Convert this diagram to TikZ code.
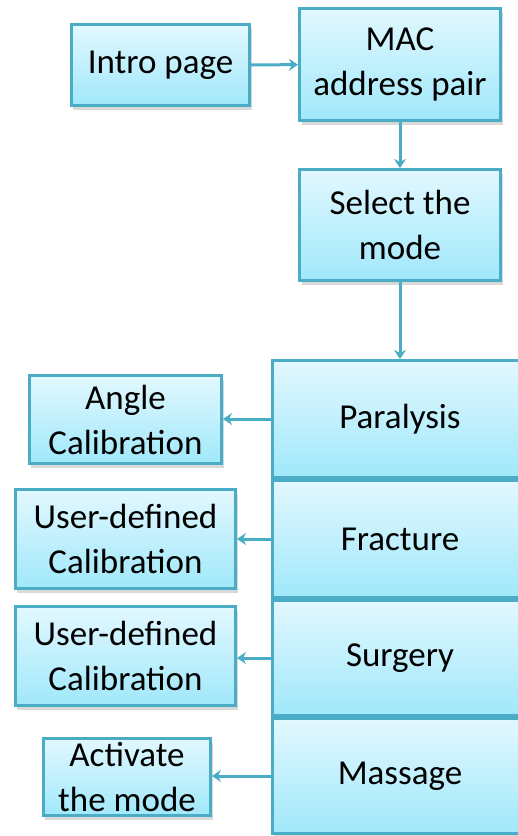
\documentclass[tikz,border=0pt]{standalone}
\usepackage{fontspec}
\setmainfont{Carlito}
\usetikzlibrary{arrows.meta,shadows}
\definecolor{boxedge}{RGB}{75,172,198}
\definecolor{boxtop}{RGB}{226,248,255}
\definecolor{boxbot}{RGB}{160,232,250}

\begin{document}
\begin{tikzpicture}[x=1bp, y=-1bp,
    blk/.style={draw=boxedge, line width=3bp, top color=boxtop, bottom color=boxbot,
      drop shadow={shadow xshift=2bp, shadow yshift=-4bp, fill=black, opacity=0.15},
      align=center, inner sep=0pt, font=\fontsize{35bp}{45bp}\selectfont},
    lnk/.style={draw=boxedge, line width=3bp, -{Stealth[length=9bp,width=12bp]}}]
    \path[use as bounding box] (0,0) rectangle (518,836);
    \clip (0,0) rectangle (518,836);

    % top row and mode selection
    \node[blk, minimum width=178bp, minimum height=81bp] (intro) at (160.5,65) {Intro page};
    \node[blk, minimum width=201bp, minimum height=112bp] (mac) at (400,64.5) {MAC\\address pair};
    \node[blk, minimum width=201bp, minimum height=111bp] (sel) at (400,225) {Select the\\mode};

    % stack of modes
    \node[blk, minimum width=256bp, minimum height=117bp] (para) at (400,419) {Paralysis};
    \node[blk, minimum width=256bp, minimum height=117bp] (frac) at (400,539) {Fracture};
    \node[blk, minimum width=256bp, minimum height=115bp] (surg) at (400,658) {Surgery};
    \node[blk, minimum width=256bp, minimum height=115bp] (mass) at (400,776) {Massage};

    % what each mode leads to
    \node[blk, minimum width=192bp, minimum height=88bp] (angle) at (125.5,419.5) {Angle\\Calibration};
    \node[blk, minimum width=220bp, minimum height=99bp] (udefa) at (125.5,539) {User-defined\\Calibration};
    \node[blk, minimum width=220bp, minimum height=99bp] (udefb) at (125.5,656) {User-defined\\Calibration};
    \node[blk, minimum width=167bp, minimum height=77bp] (act) at (127,777) {Activate\\the mode};

    \draw[lnk] (intro) -- (mac);
    \draw[lnk] (mac) -- (sel);
    \draw[lnk] (sel) -- (para);
    \draw[lnk] (para.west) -- (angle.east |- para.west);
    \draw[lnk] (frac.west) -- (udefa.east |- frac.west);
    \draw[lnk] (surg.west) -- (udefb.east |- surg.west);
    \draw[lnk] (mass.west) -- (act.east |- mass.west);
\end{tikzpicture}
\end{document}
